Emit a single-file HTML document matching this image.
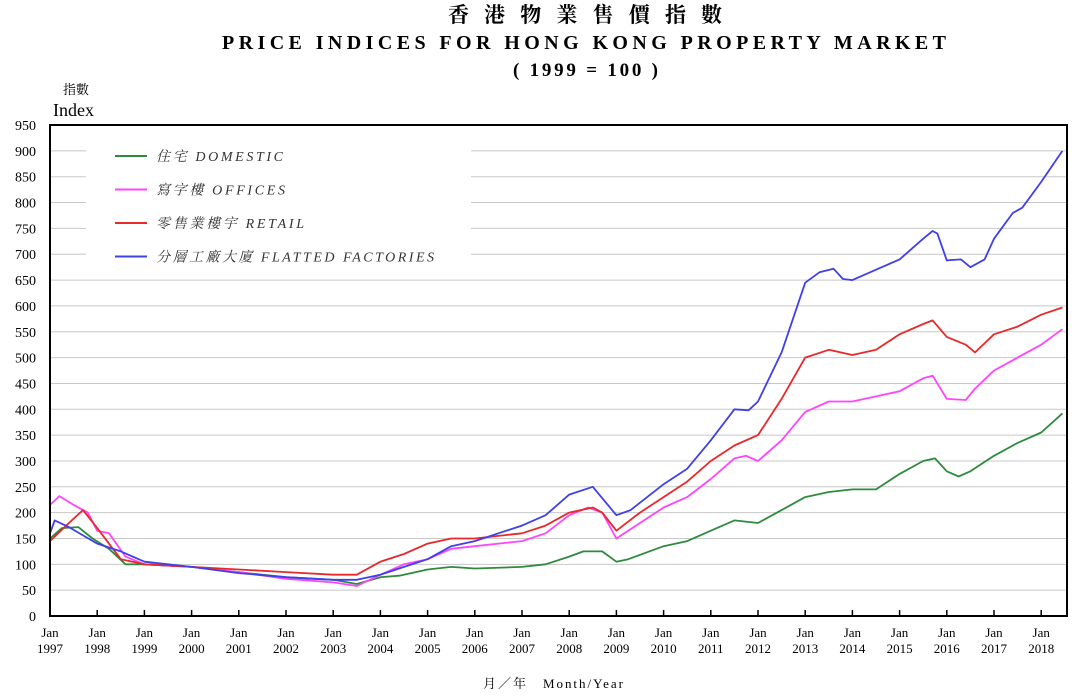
<!DOCTYPE html>
<html><head><meta charset="utf-8"><style>
body{margin:0;background:#fff;width:1080px;height:697px;overflow:hidden}
svg{display:block}
text{font-family:"Liberation Serif","Noto Serif CJK SC",serif}
</style></head><body>
<svg id="chart" width="1080" height="697">
<text x="448" y="22" font-size="21" font-weight="bold" textLength="274" lengthAdjust="spacing">香港物業售價指數</text>
<text x="222" y="49" font-size="20" font-weight="bold" textLength="724" lengthAdjust="spacing">PRICE INDICES FOR HONG KONG PROPERTY MARKET</text>
<text x="513" y="76" font-size="19" font-weight="bold" textLength="145" lengthAdjust="spacing">( 1999 = 100 )</text>
<text x="63" y="94" font-size="13">指數</text>
<text x="53" y="116" font-size="18">Index</text>
<g id="grid"></g><g id="yt"></g><g id="xt"></g><g id="series"></g>
<rect x="86" y="138" width="385" height="130" fill="#fff"/>
<g id="legend"></g>
<rect x="50" y="125" width="1017" height="491" fill="none" stroke="#000" stroke-width="2"/>
<text x="483" y="688" font-size="13" textLength="140" lengthAdjust="spacing">月／年　Month/Year</text>
</svg>
<script>
const yTicks=[0,50,100,150,200,250,300,350,400,450,500,550,600,650,700,750,800,850,900,950];
const xYears=[1997,1998,1999,2000,2001,2002,2003,2004,2005,2006,2007,2008,2009,2010,2011,2012,2013,2014,2015,2016,2017,2018];
const seriesNames=["住宅  DOMESTIC","寫字樓  OFFICES","零售業樓宇  RETAIL","分層工廠大廈  FLATTED FACTORIES"];
const legendWidths=[127,129,148,278];
const seriesColors=["#2e8b3e","#ff44ff","#e8282a","#4040e8"];
const domesticT=[1997,1997.25,1997.6,1997.9,1998.25,1998.6,1999,2000,2001,2002,2003,2003.5,2004,2004.4,2005,2005.5,2006,2007,2007.5,2008,2008.3,2008.7,2009,2009.25,2010,2010.5,2011,2011.5,2012,2012.5,2013,2013.5,2014,2014.5,2015,2015.5,2015.75,2016,2016.25,2016.5,2017,2017.5,2018,2018.45];
const domesticV=[150,170,172,150,130,100,100,95,85,75,70,62,75,78,90,95,92,95,100,115,125,125,105,110,135,145,165,185,180,205,230,240,245,245,275,300,305,280,270,280,310,335,355,392];
const officesT=[1997,1997.2,1997.5,1997.8,1998,1998.25,1998.6,1999,2000,2001,2002,2003,2003.5,2004,2004.5,2005,2005.5,2006,2007,2007.5,2008,2008.4,2008.7,2009,2009.5,2010,2010.5,2011,2011.5,2011.75,2012,2012.5,2013,2013.5,2014,2014.5,2015,2015.5,2015.7,2016,2016.4,2016.6,2017,2017.5,2018,2018.45];
const officesV=[215,232,215,200,165,160,115,100,95,85,72,65,58,80,100,110,130,135,145,160,195,210,200,150,180,210,230,265,305,310,300,340,395,415,415,425,435,460,465,420,418,440,475,500,525,555];
const retailT=[1997,1997.4,1997.7,1998,1998.5,1999,2000,2001,2002,2003,2003.5,2004,2004.5,2005,2005.5,2006,2006.5,2007,2007.5,2008,2008.5,2008.7,2009,2009.5,2010,2010.5,2011,2011.5,2012,2012.5,2013,2013.5,2014,2014.5,2015,2015.5,2015.7,2016,2016.4,2016.6,2017,2017.5,2018,2018.45];
const retailV=[145,180,205,170,110,100,95,90,85,80,80,105,120,140,150,150,155,160,175,200,210,200,165,200,230,260,300,330,350,420,500,515,505,515,545,565,572,540,525,510,545,560,583,597];
const factoriesT=[1997,1997.1,1997.4,1998,1998.5,1999,2000,2001,2002,2003,2003.5,2004,2004.5,2005,2005.5,2006,2006.5,2007,2007.5,2008,2008.5,2009,2009.3,2010,2010.5,2011,2011.5,2011.8,2012,2012.5,2013,2013.3,2013.6,2013.8,2014,2014.5,2015,2015.5,2015.7,2015.8,2016,2016.3,2016.5,2016.8,2017,2017.4,2017.6,2018,2018.45];
const factoriesV=[160,185,172,140,125,105,95,83,75,70,70,80,95,110,135,145,160,175,195,235,250,195,205,255,285,340,400,398,415,510,645,665,672,652,650,670,690,730,745,740,688,690,675,690,730,780,790,840,900];
const NS="http://www.w3.org/2000/svg";
const X=t=>50+(t-1997)*47.2, Y=v=>616-v*0.5168;
function mk(tag,attrs,parent){const e=document.createElementNS(NS,tag);for(const k in attrs)e.setAttribute(k,attrs[k]);parent.appendChild(e);return e;}
const grid=document.getElementById('grid'),yt=document.getElementById('yt'),xt=document.getElementById('xt'),ser=document.getElementById('series'),leg=document.getElementById('legend');
yTicks.forEach(v=>{
 if(v>0&&v<950){const l=mk('line',{x1:50,x2:1067,y1:Y(v),y2:Y(v),stroke:'#c8c8c8','stroke-width':1},grid);
 
 }
 const t=mk('text',{x:36,y:Y(v)+5,'font-size':14,'text-anchor':'end'},yt);t.textContent=v;
 
 
});
xYears.forEach(yr=>{
 const l=mk('line',{x1:X(yr),x2:X(yr),y1:616,y2:610,stroke:'#000','stroke-width':1.5},xt);
 
 
 const a=mk('text',{x:X(yr),y:637,'font-size':13,'text-anchor':'middle'},xt);a.textContent='Jan';
 
 
 const b=mk('text',{x:X(yr),y:653,'font-size':13,'text-anchor':'middle'},xt);b.textContent=yr;
 
 
});
const allT=[domesticT,officesT,retailT,factoriesT],allV=[domesticV,officesV,retailV,factoriesV];
const keys=['domestic','offices','retail','flatted-factories'];
allT.forEach((ts,i)=>{
 const d=ts.map((t,j)=>(j?'L':'M')+X(t).toFixed(1)+','+Y(allV[i][j]).toFixed(1)).join('');
 const p=mk('path',{d:d,fill:'none',stroke:seriesColors[i],'stroke-width':1.8,'stroke-linejoin':'round'},ser);
 
 
 const y=156+i*33.5;
 const ll=mk('line',{x1:115,x2:147,y1:y,y2:y,stroke:seriesColors[i],'stroke-width':2},leg);
 
 
 const lt=mk('text',{x:156,y:y+5,'font-size':14,'font-style':'italic',fill:'#333',textLength:legendWidths[i],lengthAdjust:'spacing'},leg);lt.textContent=seriesNames[i];
 
 
});
</script>
</body></html>
